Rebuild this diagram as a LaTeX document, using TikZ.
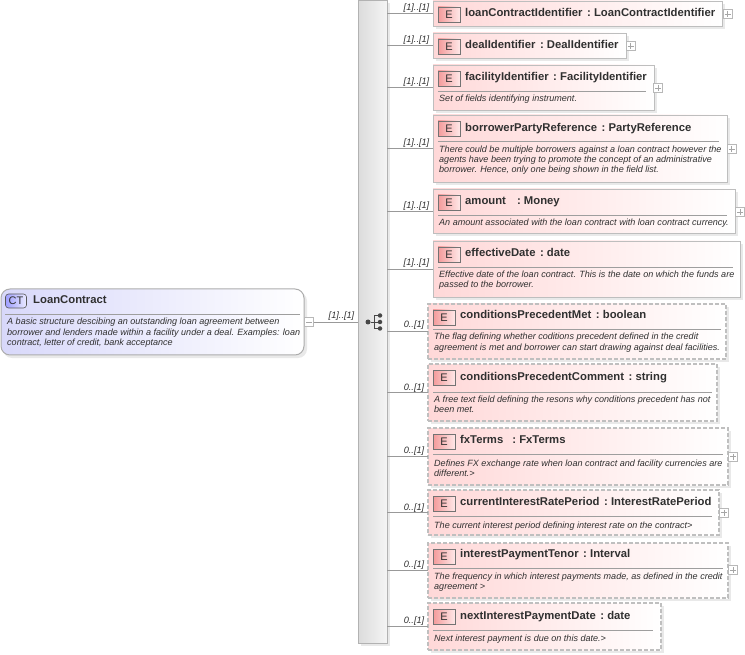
\documentclass[tikz,border=0pt]{standalone}
\usepackage{fontspec}
\setmainfont{Liberation Sans}
\usetikzlibrary{calc}
\definecolor{epink}{HTML}{FFD8D8}
\definecolor{eborder}{HTML}{BEBEBE}
\definecolor{rootblue}{HTML}{D8D8FA}
\definecolor{shadowc}{HTML}{E9E9E9}
\definecolor{ebadge}{HTML}{F49A9A}
\definecolor{ebadger}{HTML}{FFE8E8}
\definecolor{txt}{HTML}{303030}
\newcommand{\sep}{\hspace{4.5pt}:\hspace{3.2pt}}
\tikzset{x=1pt,y=-1pt,
  elembox/.style={rectangle,draw=eborder,line width=.9pt,left color=epink,right color=white,inner sep=0pt,outer sep=0pt},
  dashbox/.style={elembox,line width=1.2pt,draw=black!25,dash pattern=on 4pt off 2pt},
  badge/.style={rectangle,draw=black!55,line width=.5pt,left color=ebadge,right color=ebadger,minimum width=22pt,minimum height=15pt,inner sep=0pt,text=txt,font=\fontsize{11}{11}\selectfont},
  title/.style={anchor=base west,inner sep=0pt,font=\fontsize{11.3}{12}\selectfont\bfseries,text=txt},
  descr/.style={anchor=base west,inner sep=0pt,align=left,font=\fontsize{9.05}{10}\selectfont\itshape,text=txt},
  card/.style={anchor=base,inner sep=0pt,font=\fontsize{9.2}{10}\selectfont\itshape,text=txt},
  plusbox/.style={rectangle,draw=black!28,fill=white,line width=.6pt,minimum size=9pt,inner sep=0pt,
    path picture={\draw[black!35,line width=.6pt] ($(path picture bounding box.center)+(-3,0)$) -- ($(path picture bounding box.center)+(3,0)$) ($(path picture bounding box.center)+(0,-3)$) -- ($(path picture bounding box.center)+(0,3)$);}},
  minusbox/.style={rectangle,draw=black!28,fill=white,line width=.6pt,minimum size=9pt,inner sep=0pt,
    path picture={\draw[black!35,line width=.6pt] ($(path picture bounding box.center)+(-3,0)$) -- ($(path picture bounding box.center)+(3,0)$);}},
  conn/.style={draw=black!40,line width=.6pt},
  rule/.style={draw=black!38,line width=.6pt},
}
% #1 name, #2 style, #3 x0, #4 y0, #5 x1, #6 y1
\newcommand{\elemshape}[6]{%
  \fill[shadowc] (#3+3,#4+3) rectangle (#5+3,#6+3);
  \node[#2,minimum width=#5-#3,minimum height=#6-#4] (#1) at ({(#3+#5)/2},{(#4+#6)/2}) {};
  \node[badge] (#1b) at (#3+16,#4+13.5) {E};
}
\begin{document}
\begin{tikzpicture}
\useasboundingbox (0,0) rectangle (745,655);
\fill[white] (0,0) rectangle (745,655);
% bar
\fill[shadowc] (361,3) rectangle (390,646);
\node[rectangle,draw=black!30,line width=.8pt,left color=black!14,right color=black!4,minimum width=29pt,minimum height=643pt,inner sep=0pt,outer sep=0pt] (bar) at (372.5,321.5) {};
% root
\fill[shadowc,rounded corners=9pt] (3,292) rectangle (307,358);
\node[rectangle,rounded corners=9pt,draw=black!32,line width=1pt,left color=rootblue,right color=white,minimum width=303pt,minimum height=66pt,inner sep=0pt,outer sep=0pt] (root) at (152.5,322) {};
\node[rectangle,rounded corners=3pt,draw=black!65,line width=.6pt,left color=blue!38,right color=blue!8,minimum width=21pt,minimum height=14pt,inner sep=0pt,text=txt,font=\fontsize{11}{11}\selectfont] (ct) at (16,301) {CT};
\node[title] (rootname) at (33,304) {LoanContract};
\draw[rule] (5,314.5) -- (300,314.5);
\node[descr] (d0) at (7,325) {A basic structure descibing an outstanding loan agreement between};
\node[descr] (d0b) at (7,335) {borrower and lenders made within a facility under a deal. Examples: loan};
\node[descr] (d0c) at (7,345) {contract, letter of credit, bank acceptance};
\node[minusbox] (rootminus) at (309,322) {};
\draw[conn] (rootminus.east) -- (bar.west |- rootminus.east);
\node[card] (c0) at (341.5,319) {[1]..[1]};
% sequence icon
\node[circle,fill=black!72,minimum size=5pt,inner sep=0pt] (s0) at (368,322) {};
\node[circle,fill=black!72,minimum size=4.5pt,inner sep=0pt] (s1) at (380,315.5) {};
\node[circle,fill=black!72,minimum size=4.5pt,inner sep=0pt] (s2) at (380,322) {};
\node[circle,fill=black!72,minimum size=4.5pt,inner sep=0pt] (s3) at (380,328.5) {};
\draw[black!72,line width=.8pt] (s0) -- (s2);
\draw[black!72,line width=.8pt] (s1) -- (374.5,315.5) -- (374.5,328.5) -- (s3);
% elements
\elemshape{e1}{elembox}{433}{1}{722}{26}
\node[title] (t1) at (465,17) {loanContractIdentifier\sep LoanContractIdentifier};
\node[plusbox] (p1) at (727.5,14) {};
\draw[conn] (bar.east |- e1.west) -- (e1.west);
\node[card] (c1) at (416.5,11) {[1]..[1]};
\elemshape{e2}{elembox}{433}{33}{626}{58}
\node[title] (t2) at (465,49) {dealIdentifier\sep DealIdentifier};
\node[plusbox] (p2) at (630.5,46) {};
\draw[conn] (bar.east |- e2.west) -- (e2.west);
\node[card] (c2) at (416.5,43) {[1]..[1]};
\elemshape{e3}{elembox}{433}{65}{654}{110}
\node[title] (t3) at (465,81) {facilityIdentifier\sep FacilityIdentifier};
\draw[rule] (438,91.5) -- (646,91.5);
\node[descr] (d3) at (439,102) {Set of fields identifying instrument.};
\node[plusbox] (p3) at (658,88) {};
\draw[conn] (bar.east |- e3.west) -- (e3.west);
\node[card] (c3) at (416.5,85) {[1]..[1]};
\elemshape{e4}{elembox}{433}{115}{727}{182}
\node[title] (t4) at (465,132) {borrowerPartyReference\sep PartyReference};
\draw[rule] (438,141.5) -- (719,141.5);
\node[descr] (d4) at (439,153) {There could be multiple borrowers against a loan contract however the};
\node[descr] (d4b) at (439,163) {agents have been trying to promote the concept of an administrative};
\node[descr] (d4c) at (439,173) {borrower. Hence, only one being shown in the field list.};
\node[plusbox] (p4) at (731.5,149) {};
\draw[conn] (bar.east |- e4.west) -- (e4.west);
\node[card] (c4) at (416.5,146) {[1]..[1]};
\elemshape{e5}{elembox}{433}{189}{735}{233}
\node[title] (t5) at (465,205) {amount\hspace{11pt}:\hspace{3.2pt}Money};
\draw[rule] (438,215.5) -- (727,215.5);
\node[descr] (d5) at (439,226) {An amount associated with the loan contract with loan contract currency.};
\node[plusbox] (p5) at (740,212) {};
\draw[conn] (bar.east |- e5.west) -- (e5.west);
\node[card] (c5) at (416.5,209) {[1]..[1]};
\elemshape{e6}{elembox}{433}{241}{740}{297}
\node[title] (t6) at (465,257) {effectiveDate\sep date};
\draw[rule] (438,267.5) -- (733,267.5);
\node[descr] (d6) at (439,278) {Effective date of the loan contract. This is the date on which the funds are};
\node[descr] (d6b) at (439,288) {passed to the borrower.};
\draw[conn] (bar.east |- e6.west) -- (e6.west);
\node[card] (c6) at (416.5,266) {[1]..[1]};
\elemshape{e7}{dashbox}{428}{304}{726}{359}
\node[title] (t7) at (460,319) {conditionsPrecedentMet\sep boolean};
\draw[rule] (433,329.5) -- (721,329.5);
\node[descr] (d7) at (434,340) {The flag defining whether coditions precedent defined in the credit};
\node[descr] (d7b) at (434,350) {agreement is met and borrower can start drawing against deal facilities.};
\draw[conn] (bar.east |- e7.west) -- (e7.west);
\node[card] (c7) at (414,328) {0..[1]};
\elemshape{e8}{dashbox}{428}{364}{717}{421}
\node[title] (t8) at (460,380.5) {conditionsPrecedentComment\sep string};
\draw[rule] (433,392.5) -- (712,392.5);
\node[descr] (d8) at (434,402) {A free text field defining the resons why conditions precedent has not};
\node[descr] (d8b) at (434,412) {been met.};
\draw[conn] (bar.east |- e8.west) -- (e8.west);
\node[card] (c8) at (414,390) {0..[1]};
\elemshape{e9}{dashbox}{428}{428}{728}{485}
\node[title] (t9) at (460,443) {fxTerms\hspace{9pt}:\hspace{3.2pt}FxTerms};
\draw[rule] (433,454.5) -- (723,454.5);
\node[descr] (d9) at (434,466) {Defines FX exchange rate when loan contract and facility currencies are};
\node[descr] (d9b) at (434,476) {different.>};
\node[plusbox] (p9) at (733,456.5) {};
\draw[conn] (bar.east |- e9.west) -- (e9.west);
\node[card] (c9) at (414,453) {0..[1]};
\elemshape{e10}{dashbox}{428}{490}{719}{535}
\node[title] (t10) at (460,505) {currentInterestRatePeriod\sep InterestRatePeriod};
\draw[rule] (433,516.5) -- (712,516.5);
\node[descr] (d10) at (434,528) {The current interest period defining interest rate on the contract>};
\node[plusbox] (p10) at (724,512.5) {};
\draw[conn] (bar.east |- e10.west) -- (e10.west);
\node[card] (c10) at (414,510) {0..[1]};
\elemshape{e11}{dashbox}{428}{543}{728}{598}
\node[title] (t11) at (460,557) {interestPaymentTenor\sep Interval};
\draw[rule] (433,568.5) -- (723,568.5);
\node[descr] (d11) at (434,579) {The frequency in which interest payments made, as defined in the credit};
\node[descr] (d11b) at (434,589) {agreement >};
\node[plusbox] (p11) at (733,570) {};
\draw[conn] (bar.east |- e11.west) -- (e11.west);
\node[card] (c11) at (414,567) {0..[1]};
\elemshape{e12}{dashbox}{428}{603}{661}{650}
\node[title] (t12) at (460,619) {nextInterestPaymentDate\sep date};
\draw[rule] (433,630.5) -- (653,630.5);
\node[descr] (d12) at (434,641) {Next interest payment is due on this date.>};
\draw[conn] (bar.east |- e12.west) -- (e12.west);
\node[card] (c12) at (414,623) {0..[1]};
\end{tikzpicture}
\end{document}
